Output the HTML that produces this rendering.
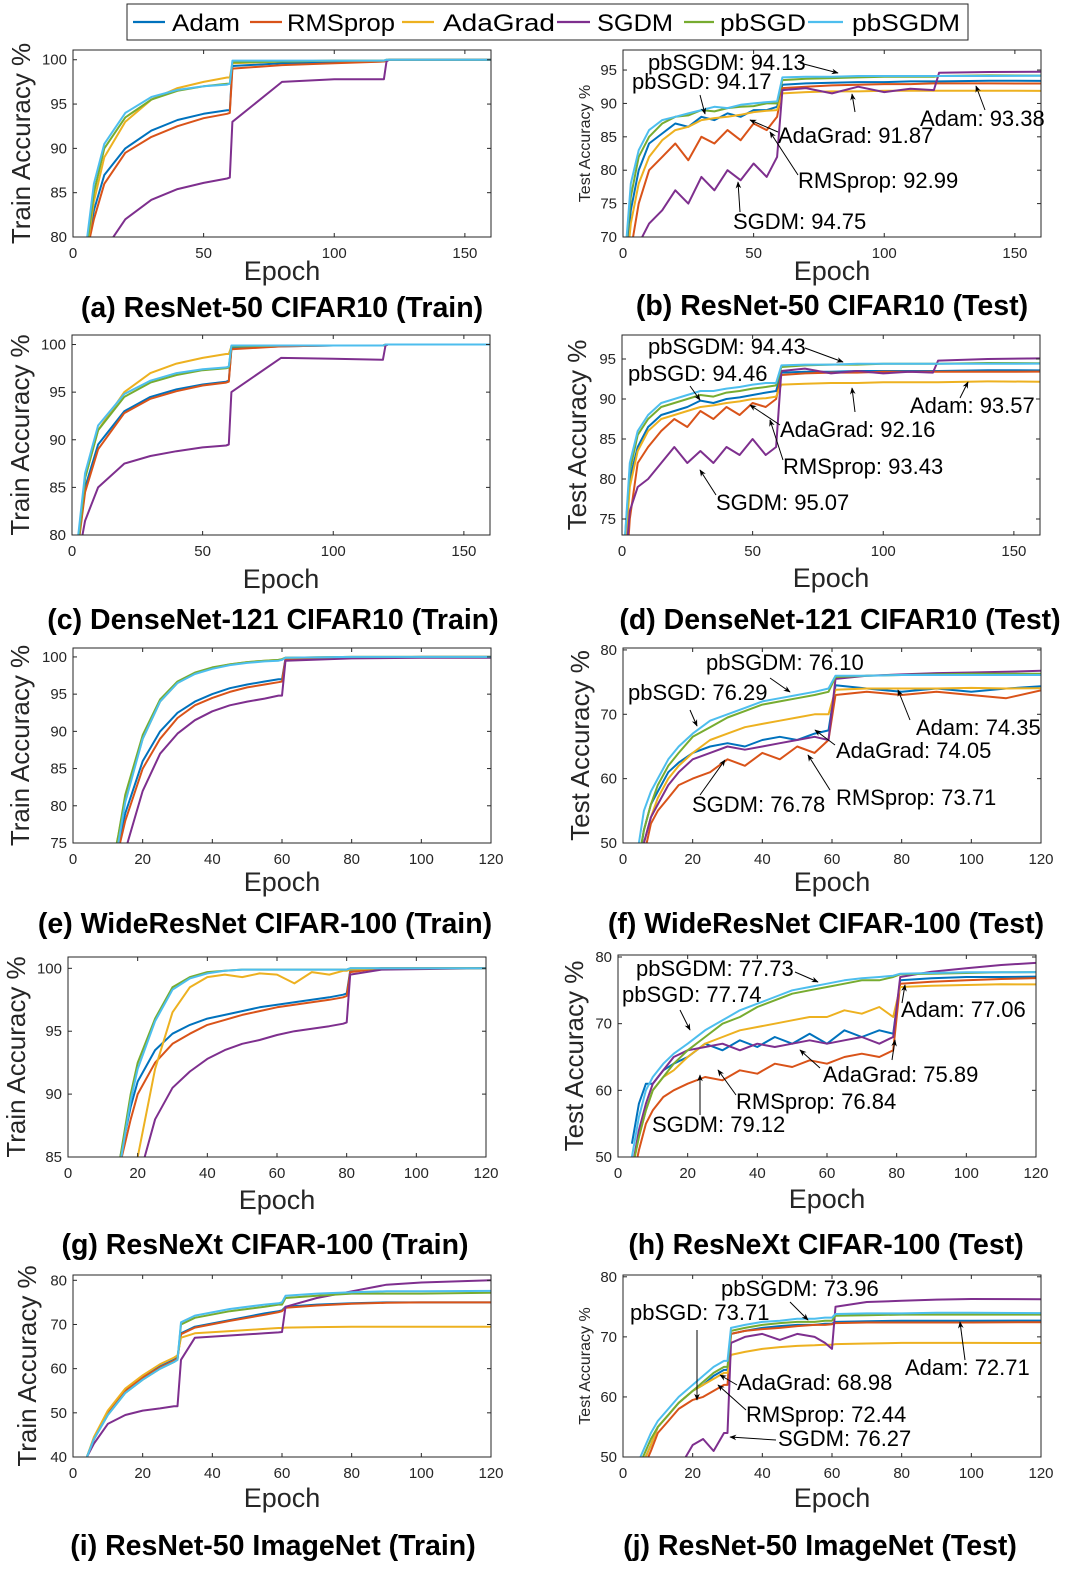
<!DOCTYPE html>
<html><head><meta charset="utf-8">
<style>
body{margin:0;background:#fff;}
svg{display:block;font-family:"Liberation Sans",Arial,sans-serif;}
</style></head>
<body>
<svg id="fig" width="1080" height="1588" viewBox="0 0 1080 1588"></svg>
<script>
const series = ["Adam","RMSprop","AdaGrad","SGDM","pbSGD","pbSGDM"];
const colors = ["#0072BD","#D95319","#EDB120","#7E2F8E","#77AC30","#4DBEEE"];

const aEpochs=[5,8,12,20,30,40,50,59,60,61,80,100,119,120,121,160];
const aAdam=[78,83,87,90,92,93.2,93.9,94.3,94.3,99.3,99.6,99.7,99.8,99.9,100,100];
const aRMSprop=[78,82,86,89.5,91.3,92.5,93.4,93.9,94,99,99.4,99.6,99.8,99.9,100,100];
const aAdaGrad=[78,84,89,93,95.5,96.8,97.5,98,98,99.6,99.8,99.9,99.9,99.9,100,100];
const aSGDM=[70,74,78.5,82,84.2,85.4,86.1,86.6,86.7,93,97.5,97.8,97.8,99.8,100,100];
const apbSGD=[78,85,90,93.5,95.5,96.5,97,97.3,97.3,99.7,99.8,99.9,99.9,100,100,100];
const apbSGDM=[79,86,90.5,94,95.8,96.6,97,97.2,97.3,99.9,99.9,99.9,99.9,100,100,100];

const bEpochs=[1,3,6,10,15,20,25,30,35,40,45,50,55,59,61,70,80,90,100,110,119,121,140,160];
const bAdam=[66,74,80,84,85.5,87,86.5,88,87.5,88.5,88,89,89,89.5,92.8,93,93.1,93.2,93.2,93.3,93.3,93.3,93.4,93.38];
const bRMSprop=[60,68,75,80,82,84,81.5,85,84,86,84.5,87,86,88,92.3,92.5,92.7,92.8,92.9,92.9,93,93,93,92.99];
const bAdaGrad=[64,72,78,82,84.5,86,86.5,87.5,87.8,88,88.3,88.7,88.9,89,91.5,91.7,91.8,91.8,91.9,91.9,91.9,91.9,91.9,91.87];
const bSGDM=[55,63,69,72,74,77,75,79,77,80,78.5,81,79,82,92,92.3,91.5,92.5,91.7,92.2,92,94.6,94.7,94.75];
const bpbSGD=[68,76,82,85,87,88,88.2,89,88.8,89.3,89.5,89.6,90,90,93.5,93.7,93.8,93.9,94,94,94,94.1,94.2,94.17];
const bpbSGDM=[68,78,83,86,87.5,88,88.5,89,89.5,89.3,89.8,90,90.2,90.3,93.9,94,94,94.1,94.1,94.1,94.1,94.1,94.1,94.13];

const cEpochs=[2,5,10,20,30,40,50,59,60,61,80,100,119,120,121,160];
const cAdam=[78,85,89.5,93,94.5,95.3,95.8,96.1,96.2,99.6,99.8,99.9,99.9,99.9,100,100];
const cRMSprop=[78,84.5,89,92.8,94.3,95.1,95.7,96,96.1,99.5,99.8,99.9,99.9,99.9,100,100];
const cAdaGrad=[78,86,91,95,97,98,98.6,99,99,99.8,99.9,99.9,99.9,100,100,100];
const cSGDM=[77,81.5,85,87.5,88.3,88.8,89.2,89.4,89.5,95,98.6,98.5,98.4,99.9,100,100];
const cpbSGD=[78,86,91,94.5,96,96.8,97.3,97.5,97.6,99.8,99.9,99.9,99.9,100,100,100];
const cpbSGDM=[79,86.5,91.5,94.8,96.2,97,97.4,97.6,97.7,99.9,99.9,99.9,99.9,100,100,100];

const dEpochs=[1,3,6,10,15,20,25,30,35,40,45,50,55,59,61,70,80,90,100,110,119,121,140,160];
const dAdam=[70,80,84,86.5,88,88.5,89,89.8,89.5,90,90.2,90.5,90.8,91,93.3,93.4,93.4,93.5,93.5,93.5,93.5,93.5,93.6,93.57];
const dRMSprop=[65,75,82,84,86,87.5,86.5,88.5,87.5,89,88,89.5,89,90,93,93.2,93.3,93.3,93.4,93.4,93.4,93.4,93.4,93.43];
const dAdaGrad=[70,79,83.5,86,87.5,88,88.5,89,89.2,89.5,89.7,90,90.1,90.3,91.8,91.9,92,92,92.1,92.1,92.1,92.1,92.2,92.16];
const dSGDM=[68,76,79,80,82,84,82,83.5,82,84,83,85,83,84,93.5,93.8,93.2,93.5,93.2,93.4,93.3,94.8,95,95.07];
const dpbSGD=[72,81,85.5,87.5,89,89.5,90,90.5,90.3,90.8,91,91.3,91.5,91.7,94,94.2,94.3,94.3,94.4,94.4,94.4,94.4,94.5,94.46];
const dpbSGDM=[72,82,86,88,89.5,90,90.5,91,91,91.3,91.5,91.8,92,92,94.2,94.3,94.3,94.4,94.4,94.4,94.4,94.4,94.4,94.43];

const eEpochs=[10,13,15,20,25,30,35,40,45,50,55,59,60,61,80,100,120];
const eAdam=[68,75,79,86,90,92.5,94,95,95.8,96.3,96.7,97,97,99.8,99.9,100,100];
const eRMSprop=[67,74,78,85,89,91.8,93.5,94.5,95.3,95.9,96.3,96.6,96.7,99.7,99.9,100,100];
const eAdaGrad=[69,76,81,89,94,96.5,97.8,98.5,99,99.3,99.5,99.6,99.7,99.9,100,100,100];
const eSGDM=[64,70,74,82,87,89.7,91.5,92.7,93.5,94,94.4,94.8,94.8,99.5,99.8,99.9,99.9];
const epbSGD=[69,76,81.5,89.5,94.3,96.7,97.9,98.6,99,99.3,99.5,99.6,99.7,99.9,100,100,100];
const epbSGDM=[68,75,80.5,89,94,96.5,97.7,98.4,98.9,99.2,99.4,99.5,99.6,99.9,100,100,100];

const fEpochs=[4,6,8,10,13,16,20,25,30,35,40,45,50,55,59,61,70,80,90,100,110,120];
const fAdam=[45,52,56,58,61,62.5,64,65,65.5,65,66,66.5,66,67,67.5,74.5,74,73.5,74,73.5,74,74.35];
const fRMSprop=[42,48,53,55,57,59,60,61,63,62,64,63,65,64,66,73,73.5,73,73.5,73,72.5,73.71];
const fAdaGrad=[44,50,54,57,60,62,64,66,67,68,68.5,69,69.5,70,70,73.8,74,74,74,74.1,74,74.05];
const fSGDM=[43,50,54,56,59,61,63,64,65,64.5,65,65.5,66,66.5,66,75.5,76,76.2,76.4,76.5,76.6,76.78];
const fpbSGD=[46,52,56,59,62,64,66.5,68,69.5,70.5,71.5,72,72.5,73,73.5,75.8,76,76.1,76.2,76.3,76.3,76.29];
const fpbSGDM=[48,55,58,60,63,65,67,69,70,71,72,72.5,73,73.5,74,76,76,76.1,76.1,76.1,76.1,76.1];

const gEpochs=[15,18,20,25,30,35,40,45,50,55,60,65,70,75,79,80,81,90,120];
const gAdam=[85,89,91,93.5,94.8,95.5,96,96.3,96.6,96.9,97.1,97.3,97.5,97.7,97.9,98,99.8,100,100];
const gRMSprop=[84.5,88,90,92.5,94,94.8,95.5,95.9,96.3,96.6,96.9,97.1,97.3,97.5,97.7,97.8,99.7,100,100];
const gAdaGrad=[80,82,85,92,96.5,98.5,99.3,99.5,99.3,99.6,99.5,98.8,99.7,99.5,99.8,99.8,99.9,100,100];
const gSGDM=[78,81,83,88,90.5,91.8,92.8,93.5,94,94.3,94.7,95,95.2,95.4,95.6,95.7,99.5,99.9,100];
const gpbSGD=[85,90,92.5,96,98.5,99.3,99.7,99.8,99.9,99.9,99.9,99.9,99.9,99.9,99.9,99.9,100,100,100];
const gpbSGDM=[84.5,89.5,92,95.8,98.3,99.2,99.6,99.8,99.9,99.9,99.9,99.9,99.9,99.9,99.9,99.9,100,100,100];

const hEpochs=[4,6,8,10,13,16,20,25,30,35,40,45,50,55,60,65,70,75,79,81,90,100,110,120];
const hAdam=[52,58,61,61,63,64,65,67,66,67.5,66.5,68,67,68.5,67,69,68,69,68.5,76.5,76.8,77,77,77.06];
const hRMSprop=[46,51,55,57,59,60,61,62,61.5,63,62.5,64,63.5,64.5,64,65,65.5,65,66,76,76.3,76.5,76.7,76.84];
const hAdaGrad=[48,53,57,60,62,63,65,67,68,69,69.5,70,70.5,71,71,72,71.5,72.5,71,75.5,75.7,75.8,75.9,75.89];
const hSGDM=[48,54,58,61,63,65,66,66.5,67,66,67,66.5,67,67.5,67,67.5,68,67,68,77,77.8,78.3,78.8,79.12];
const hpbSGD=[48,53,57,60,62,64,66,68,70,71,72.5,73.5,74.5,75,75.5,76,76.5,76.5,77,77.4,77.5,77.6,77.7,77.74];
const hpbSGDM=[50,56,60,62,64,65.5,67,69,70.5,72,73,74,75,75.5,76,76.5,76.8,77,77.2,77.5,77.6,77.7,77.7,77.73];

const iEpochs=[4,6,10,15,20,25,29,30,31,35,45,55,59,60,61,70,80,90,100,120];
const iAdam=[40,44,50,55,58,60.5,62,62.5,68,69.5,71,72.5,73,73.2,74,74.5,74.8,75,75,75];
const iRMSprop=[40,44,50,55,58,60.3,61.8,62.3,67.8,69.3,70.8,72.2,72.8,73,73.8,74.3,74.7,74.9,75,75];
const iAdaGrad=[40,44.5,50.5,55.5,58.5,61,62.5,63,67,68,68.5,69,69.2,69.2,69.3,69.4,69.5,69.5,69.5,69.5];
const iSGDM=[40,43,47.5,49.5,50.5,51,51.5,51.5,62,67,67.5,68,68.2,68.3,74,76,77.5,79,79.5,80];
const ipbSGD=[40,44,49.5,54.5,57.5,60,61.5,62,70,71.5,73,74,74.5,74.5,76,76.5,77,77,77,77.2];
const ipbSGDM=[40,44,49.5,54.5,57.5,60,61.5,62,70.5,72,73.5,74.5,74.8,75,76.5,77,77.3,77.5,77.5,77.6];

const jEpochs=[5,8,10,13,16,20,23,26,29,30,31,35,40,45,50,55,58,60,61,70,80,90,100,120];
const jAdam=[48,52,55,57,59,61,62,63.5,64.5,64.5,70.5,71,71.5,71.8,72,72,72.2,72.2,72.5,72.6,72.7,72.7,72.7,72.71];
const jRMSprop=[47,51,54,56,58,59.5,60,61,62,62,70.5,71,71.3,71.5,71.8,72,72,72.1,72.3,72.4,72.4,72.4,72.4,72.44];
const jAdaGrad=[48,52,55,57,59,61,62,63,64,64,67,67.5,68,68.3,68.5,68.6,68.7,68.7,68.8,68.9,69,69,69,68.98];
const jSGDM=[40,42,44,46,48,52,53,51,54,54,69,70,70.5,69.5,70.5,70,69,68,75,75.8,76,76.2,76.3,76.27];
const jpbSGD=[49,53,55,57,59,61,62.5,64,65,65,71,71.5,72,72.3,72.5,72.5,72.7,72.7,73.5,73.6,73.7,73.7,73.7,73.71];
const jpbSGDM=[50,54,56,58,60,62,63.5,65,66,66,71.5,72,72.5,72.7,73,73,73.2,73.2,73.8,73.9,73.9,74,74,73.96];

const xTicks160=[0,50,100,150];
const xTicks120=[0,20,40,60,80,100,120];

const panels=[
 {id:"a",box:[73,50,491,237],x:[0,160],y:[80,101.1],xt:xTicks160,yt:[80,85,90,95,100],ep:aEpochs,d:[aAdam,aRMSprop,aAdaGrad,aSGDM,apbSGD,apbSGDM],yl:"Train Accuracy %",ylf:26,ylx:30,cap:"(a) ResNet-50 CIFAR10 (Train)",capx:282,capy:317,exy:280},
 {id:"b",box:[623,50,1041,237],x:[0,160],y:[70,98],xt:xTicks160,yt:[70,75,80,85,90,95],ep:bEpochs,d:[bAdam,bRMSprop,bAdaGrad,bSGDM,bpbSGD,bpbSGDM],yl:"Test Accuracy %",ylf:16,ylx:590,cap:"(b) ResNet-50 CIFAR10 (Test)",capx:832,capy:315,exy:280},
 {id:"c",box:[72,335,490,535],x:[0,160],y:[80,101],xt:xTicks160,yt:[80,85,90,95,100],ep:cEpochs,d:[cAdam,cRMSprop,cAdaGrad,cSGDM,cpbSGD,cpbSGDM],yl:"Train Accuracy %",ylf:26,ylx:29,cap:"(c) DenseNet-121 CIFAR10 (Train)",capx:273,capy:629,exy:588},
 {id:"d",box:[622,335,1040,535],x:[0,160],y:[73,98],xt:xTicks160,yt:[75,80,85,90,95],ep:dEpochs,d:[dAdam,dRMSprop,dAdaGrad,dSGDM,dpbSGD,dpbSGDM],yl:"Test Accuracy %",ylf:26,ylx:586,cap:"(d) DenseNet-121 CIFAR10 (Test)",capx:840,capy:629,exy:587},
 {id:"e",box:[73,648,491,843],x:[0,120],y:[75,101.2],xt:xTicks120,yt:[75,80,85,90,95,100],ep:eEpochs,d:[eAdam,eRMSprop,eAdaGrad,eSGDM,epbSGD,epbSGDM],yl:"Train Accuracy %",ylf:26,ylx:29,cap:"(e) WideResNet CIFAR-100 (Train)",capx:265,capy:933,exy:891},
 {id:"f",box:[623,648,1041,843],x:[0,120],y:[50,80.3],xt:xTicks120,yt:[50,60,70,80],ep:fEpochs,d:[fAdam,fRMSprop,fAdaGrad,fSGDM,fpbSGD,fpbSGDM],yl:"Test Accuracy %",ylf:26,ylx:589,cap:"(f) WideResNet CIFAR-100 (Test)",capx:826,capy:933,exy:891},
 {id:"g",box:[68,957,486,1157],x:[0,120],y:[85,100.9],xt:xTicks120,yt:[85,90,95,100],ep:gEpochs,d:[gAdam,gRMSprop,gAdaGrad,gSGDM,gpbSGD,gpbSGDM],yl:"Train Accuracy %",ylf:26,ylx:25,cap:"(g) ResNeXt CIFAR-100 (Train)",capx:265,capy:1254,exy:1209},
 {id:"h",box:[618,955,1036,1157],x:[0,120],y:[50,80.3],xt:xTicks120,yt:[50,60,70,80],ep:hEpochs,d:[hAdam,hRMSprop,hAdaGrad,hSGDM,hpbSGD,hpbSGDM],yl:"Test Accuracy %",ylf:26,ylx:583,cap:"(h) ResNeXt CIFAR-100 (Test)",capx:826,capy:1254,exy:1208},
 {id:"i",box:[73,1275,491,1457],x:[0,120],y:[40,81.2],xt:xTicks120,yt:[40,50,60,70,80],ep:iEpochs,d:[iAdam,iRMSprop,iAdaGrad,iSGDM,ipbSGD,ipbSGDM],yl:"Train Accuracy %",ylf:26,ylx:36,cap:"(i) ResNet-50 ImageNet (Train)",capx:273,capy:1555,exy:1507},
 {id:"j",box:[623,1275,1041,1457],x:[0,120],y:[50,80.3],xt:xTicks120,yt:[50,60,70,80],ep:jEpochs,d:[jAdam,jRMSprop,jAdaGrad,jSGDM,jpbSGD,jpbSGDM],yl:"Test Accuracy %",ylf:16,ylx:590,cap:"(j) ResNet-50 ImageNet (Test)",capx:820,capy:1555,exy:1507}
];

const annTexts=[
 ["pbSGDM: 94.13",648,70,800,63,838,73],["pbSGD: 94.17",632,89,700,95,705,114],["AdaGrad: 91.87",778,143,778,132,750,120],
 ["Adam: 93.38",920,126,985,110,976,86],["RMSprop: 92.99",798,188,798,175,770,132],["SGDM: 94.75",733,229,740,212,738,182],["",0,0,855,112,852,94],
 ["pbSGDM: 94.43",648,354,805,348,843,362],["pbSGD: 94.46",628,381,690,386,700,400],["AdaGrad: 92.16",780,437,780,425,750,405],
 ["Adam: 93.57",910,413,960,398,968,382],["RMSprop: 93.43",783,474,783,460,770,420],["SGDM: 95.07",716,510,716,495,700,470],["",0,0,855,412,852,388],
 ["pbSGDM: 76.10",706,670,770,678,790,692],["pbSGD: 76.29",628,700,690,710,697,726],["Adam: 74.35",916,735,910,720,898,690],
 ["AdaGrad: 74.05",836,758,835,745,815,730],["SGDM: 76.78",692,812,700,795,725,760],["RMSprop: 73.71",836,805,830,790,808,755],
 ["pbSGDM: 77.73",636,976,795,972,818,982],["pbSGD: 77.74",622,1002,680,1010,690,1030],["Adam: 77.06",901,1017,902,1003,905,985],
 ["AdaGrad: 75.89",823,1082,820,1068,800,1050],["RMSprop: 76.84",736,1109,736,1095,718,1070],["SGDM: 79.12",652,1132,700,1115,700,1075],["",0,0,892,1060,895,1040],
 ["pbSGDM: 73.96",721,1296,790,1302,808,1320],["pbSGD: 73.71",630,1320,697,1330,697,1400],["Adam: 72.71",905,1375,965,1360,960,1322],
 ["AdaGrad: 68.98",737,1390,737,1385,720,1375],["RMSprop: 72.44",746,1422,746,1410,718,1385],["SGDM: 76.27",778,1446,776,1440,730,1437]
];

const NS="http://www.w3.org/2000/svg";
const svg=document.getElementById("fig");
function mk(tag,attrs,parent){const e=document.createElementNS(NS,tag);for(const k in attrs)e.setAttribute(k,attrs[k]);(parent||svg).appendChild(e);return e;}

const defs=mk("defs",{});
const mkr=mk("marker",{id:"ah",viewBox:"0 0 10 10",refX:"9",refY:"5",markerWidth:"7",markerHeight:"7",orient:"auto-start-reverse"},defs);
mk("path",{d:"M0,1 L10,5 L0,9 L3,5 z",fill:"#000"},mkr);

panels.forEach(p=>{
  const [x0,y0,x1,y1]=p.box;
  const sx=v=>x0+(v-p.x[0])/(p.x[1]-p.x[0])*(x1-x0);
  const sy=v=>y1-(v-p.y[0])/(p.y[1]-p.y[0])*(y1-y0);
  const g=mk("g",{});
  
  
  const cp=mk("clipPath",{id:"cp"+p.id},defs);
  mk("rect",{x:x0,y:y0,width:x1-x0,height:y1-y0},cp);
  const lg=mk("g",{"clip-path":"url(#cp"+p.id+")"},g);
  p.d.forEach((vals,si)=>{
    const pts=vals.map((v,i)=>sx(p.ep[i]).toFixed(1)+","+sy(v).toFixed(1)).join(" ");
    const pl=mk("polyline",{points:pts,fill:"none",stroke:colors[si],"stroke-width":"2","stroke-linejoin":"round"},lg);
    
    
  });
  const fr=mk("rect",{x:x0,y:y0,width:x1-x0,height:y1-y0,fill:"none",stroke:"#262626","stroke-width":"1"},g);
  
  
  p.xt.forEach(t=>{
    const X=sx(t);
    mk("line",{x1:X,y1:y1,x2:X,y2:y1-4,stroke:"#262626"},g);
    mk("line",{x1:X,y1:y0,x2:X,y2:y0+4,stroke:"#262626"},g);
    const tx=mk("text",{x:X,y:y1+21,"text-anchor":"middle","font-size":"15",fill:"#262626"},g);
    tx.textContent=t;
    
    
  });
  p.yt.forEach(t=>{
    const Y=sy(t);
    mk("line",{x1:x0,y1:Y,x2:x0+4,y2:Y,stroke:"#262626"},g);
    mk("line",{x1:x1,y1:Y,x2:x1-4,y2:Y,stroke:"#262626"},g);
    const tx=mk("text",{x:x0-6,y:Y+5,"text-anchor":"end","font-size":"15",fill:"#262626"},g);
    tx.textContent=t;
    
    
  });
  const xl=mk("text",{x:(x0+x1)/2,y:p.exy,"text-anchor":"middle","font-size":"27",fill:"#262626"},g);
  xl.textContent="Epoch";
  
  
  const yc=(y0+y1)/2;
  const yl=mk("text",{x:p.ylx,y:yc,"text-anchor":"middle","font-size":p.ylf,fill:"#262626",transform:"rotate(-90 "+p.ylx+" "+yc+")"},g);
  yl.textContent=p.yl;
  
  
  const cap=mk("text",{x:p.capx,y:p.capy,"text-anchor":"middle","font-size":"28.5","font-weight":"bold",fill:"#000"},g);
  cap.textContent=p.cap;
  
  
});

annTexts.forEach(a=>{
  if(a[0]){
    const t=mk("text",{x:a[1],y:a[2],"font-size":"22",fill:"#000"});
    t.textContent=a[0];
    
    
  }
  const l=mk("line",{x1:a[3],y1:a[4],x2:a[5],y2:a[6],stroke:"#000","stroke-width":"1","marker-end":"url(#ah)"});
  
  
});

const leg=mk("g",{});


mk("rect",{x:127,y:4,width:841,height:36,fill:"#fff",stroke:"#262626","stroke-width":"1"},leg);
const legLine=[[133,165],[250,282],[402,434],[557,590],[684,714],[808,843]];
const legText=[[172,68],[287,108],[443,112],[597,76],[720,86],[852,108]];
series.forEach((s,i)=>{
  const e=mk("g",{},leg);
  
  
  mk("line",{x1:legLine[i][0],y1:22,x2:legLine[i][1],y2:22,stroke:colors[i],"stroke-width":"2.2"},e);
  const t=mk("text",{x:legText[i][0],y:31,"font-size":"24",fill:"#000",textLength:legText[i][1],lengthAdjust:"spacingAndGlyphs"},e);
  t.textContent=s;
});
</script>
</body></html>
